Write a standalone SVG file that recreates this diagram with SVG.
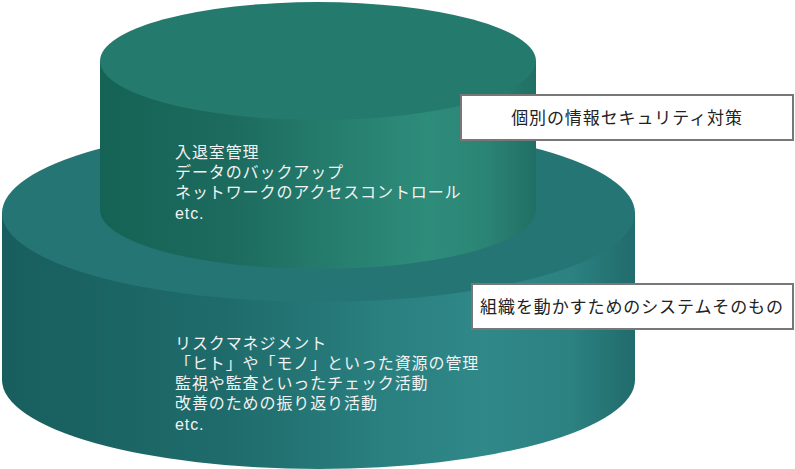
<svg xmlns="http://www.w3.org/2000/svg" width="795" height="469" viewBox="0 0 795 469">
<defs>
<linearGradient id="gTopSide" x1="100" y1="0" x2="536" y2="0" gradientUnits="userSpaceOnUse">
<stop offset="0" stop-color="#156355"/>
<stop offset="0.3" stop-color="#1c6b5e"/>
<stop offset="0.55" stop-color="#267e6e"/>
<stop offset="0.75" stop-color="#2e8c7b"/>
<stop offset="0.88" stop-color="#2b8575"/>
<stop offset="1" stop-color="#216f64"/>
</linearGradient>
<linearGradient id="gBotSide" x1="2" y1="0" x2="635" y2="0" gradientUnits="userSpaceOnUse">
<stop offset="0" stop-color="#185e5e"/>
<stop offset="0.35" stop-color="#1f6b6b"/>
<stop offset="0.6" stop-color="#2a7f7f"/>
<stop offset="0.76" stop-color="#308888"/>
<stop offset="0.9" stop-color="#2c8181"/>
<stop offset="1" stop-color="#216b6b"/>
</linearGradient>
</defs>
<style>
.lbl{font-family:"Liberation Sans","Noto Sans CJK JP",sans-serif;font-size:16px;letter-spacing:0.9px;fill:#f2f2f2}
.box{fill:#ffffff;stroke:#777777;stroke-width:2}
.btxt{font-family:"Liberation Sans","Noto Sans CJK JP",sans-serif;font-size:17px;letter-spacing:0.9px;fill:#222222;text-anchor:middle}
</style>
<g id="base-cylinder">
<path d="M2,213 L2,380 A316.5,89 0 0 0 635,380 L635,213 Z" fill="url(#gBotSide)"/>
<ellipse cx="318.5" cy="213" rx="316.5" ry="89" fill="#267575"/>
<text class="lbl" x="175"><tspan x="175" y="349">リスクマネジメント</tspan><tspan x="175" y="369">「ヒト」や「モノ」といった資源の管理</tspan><tspan x="175" y="389">監視や監査といったチェック活動</tspan><tspan x="175" y="409">改善のための振り返り活動</tspan><tspan x="175" y="430">etc.</tspan></text>
</g>
<g id="top-cylinder">
<path d="M100,61 L100,210 A218,59 0 0 0 536,210 L536,61 Z" fill="url(#gTopSide)"/>
<ellipse cx="318" cy="61" rx="218" ry="59" fill="#247a6d"/>
<text class="lbl" x="175"><tspan x="175" y="158">入退室管理</tspan><tspan x="175" y="178">データのバックアップ</tspan><tspan x="175" y="198">ネットワークのアクセスコントロール</tspan><tspan x="175" y="219">etc.</tspan></text>
</g>
<g id="connectors"></g>
<g id="label-individual">
<rect class="box" x="461" y="95" width="332" height="45"/>
<text class="btxt" x="627" y="124">個別の情報セキュリティ対策</text>
</g>
<g id="label-system">
<rect class="box" x="472" y="284" width="321" height="45"/>
<text class="btxt" x="632" y="313">組織を動かすためのシステムそのもの</text>
</g>
</svg>
